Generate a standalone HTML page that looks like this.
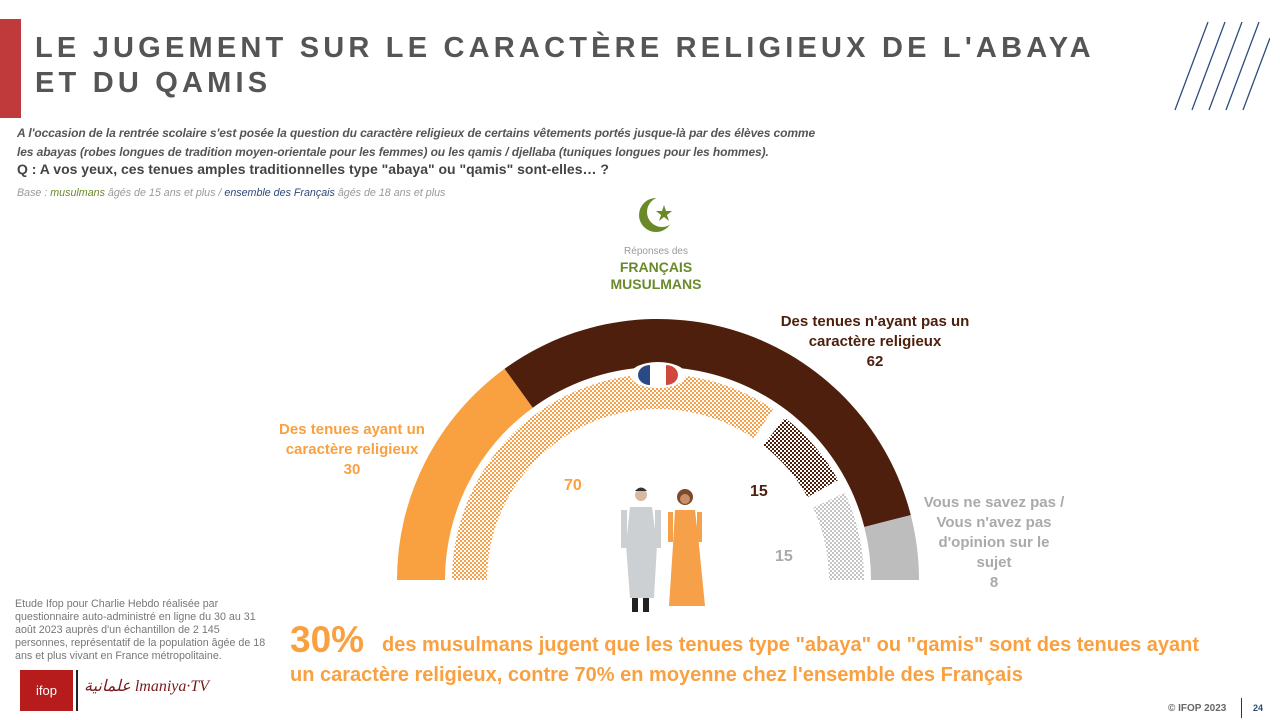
<!DOCTYPE html>
<html><head><meta charset="utf-8"><style>
body{margin:0;width:1280px;height:720px;background:#fff;font-family:"Liberation Sans",sans-serif;position:relative;overflow:hidden}
.a{position:absolute;white-space:nowrap}
</style></head><body>
<div class="a" style="left:0;top:19px;width:21px;height:99px;background:#c0393b"></div>
<div class="a" style="left:35px;top:31px;font-size:29px;font-weight:bold;letter-spacing:4.2px;color:#555;line-height:35px">LE JUGEMENT SUR LE CARACTÈRE RELIGIEUX DE L'ABAYA<br>ET DU QAMIS</div>
<svg class="a" style="left:1170px;top:20px" width="100" height="92"><g stroke="#2b4a7a" stroke-width="1.3"><line x1="5" y1="90" x2="38" y2="2"/><line x1="22" y1="90" x2="55" y2="2"/><line x1="39" y1="90" x2="72" y2="2"/><line x1="56" y1="90" x2="89" y2="2"/><line x1="73" y1="90" x2="100" y2="18"/></g></svg>
<div class="a" style="left:17px;top:124px;font-size:12px;font-style:italic;font-weight:bold;color:#555;line-height:19px;letter-spacing:-0.1px">A l'occasion de la rentrée scolaire s'est posée la question du caractère religieux de certains vêtements portés jusque-là par des élèves comme<br>les abayas (robes longues de tradition moyen-orientale pour les femmes) ou les qamis / djellaba (tuniques longues pour les hommes).</div>
<div class="a" style="left:17px;top:161px;font-size:14px;font-weight:bold;color:#444">Q : A vos yeux, ces tenues amples traditionnelles type "abaya" ou "qamis" sont-elles… ?</div>
<div class="a" style="left:17px;top:187px;font-size:10.7px;font-style:italic;color:#999">Base : <span style="color:#6a8a2a">musulmans</span> âgés de 15 ans et plus / <span style="color:#2b4a7a">ensemble des Français</span> âgés de 18 ans et plus</div>
<svg class="a" style="left:636px;top:195px" width="44" height="40"><circle cx="20" cy="20" r="17" fill="#6a8a2a"/><circle cx="26" cy="17" r="15" fill="#fff"/><polygon points="28,10 30,16 36,16 31,20 33,26 28,22 23,26 25,20 20,16 26,16" fill="#6a8a2a"/></svg>
<div class="a" style="left:606px;top:246px;width:100px;text-align:center;font-size:10px;color:#999">Réponses des</div>
<div class="a" style="left:586px;top:259px;width:140px;text-align:center;font-size:14px;font-weight:bold;color:#6a8a2a;line-height:17px">FRANÇAIS<br>MUSULMANS</div>
<svg class="a" style="left:0;top:0" width="1280" height="720">
<defs>
<pattern id="po" width="4" height="4" patternUnits="userSpaceOnUse"><rect width="4" height="4" fill="#fff"/><rect width="2" height="2" fill="#f6a04a"/><rect x="2" y="2" width="2" height="2" fill="#f6a04a"/></pattern>
<pattern id="pb" width="4" height="4" patternUnits="userSpaceOnUse"><rect width="4" height="4" fill="#fff"/><rect width="2" height="2" fill="#4e1f0c"/><rect x="2" y="2" width="2" height="2" fill="#4e1f0c"/></pattern>
<pattern id="pg" width="4" height="4" patternUnits="userSpaceOnUse"><rect width="4" height="4" fill="#fff"/><rect width="2" height="2" fill="#c4c4c4"/><rect x="2" y="2" width="2" height="2" fill="#c4c4c4"/></pattern>
</defs>
<path d="M397,580 A261,261 0 0 1 504.6,368.8 L532.8,407.7 A213,213 0 0 0 445,580 Z" fill="#f9a040"/>
<path d="M504.6,368.8 A261,261 0 0 1 910.8,515.1 L864.3,527 A213,213 0 0 0 532.8,407.7 Z" fill="#4e1f0c"/>
<path d="M910.8,515.1 A261,261 0 0 1 919,580 L871,580 A213,213 0 0 0 864.3,527 Z" fill="#bdbdbd"/>
<path d="M452,580 A206,206 0 0 1 773.2,409.2 L753.6,438.2 A171,171 0 0 0 487,580 Z" fill="url(#po)"/>
<path d="M784.8,417.7 A206,206 0 0 1 838.2,480.1 L807.6,497.1 A171,171 0 0 0 763.3,445.3 Z" fill="url(#pb)"/>
<path d="M844.7,492.9 A206,206 0 0 1 864,580 L829,580 A171,171 0 0 0 813,507.7 Z" fill="url(#pg)"/>
<ellipse cx="658" cy="375" rx="28" ry="13" fill="#fff"/>
<path d="M650,365 A12,10 0 0 0 650,385 Z" fill="#2b4a85"/><path d="M666,365 A12,10 0 0 1 666,385 Z" fill="#d0473d"/>
<circle cx="641" cy="495" r="6" fill="#d9b8a0"/><path d="M635,491 Q641,484 647,491 Z" fill="#333"/>
<path d="M630,507 L652,507 L657,545 L654,598 L630,598 L626,545 Z" fill="#ccd0d2"/>
<rect x="621" y="510" width="6" height="38" fill="#ccd0d2"/><rect x="655" y="510" width="6" height="38" fill="#ccd0d2"/>
<rect x="632" y="598" width="6" height="14" fill="#222"/><rect x="643" y="598" width="6" height="14" fill="#222"/>
<circle cx="685" cy="497" r="8" fill="#7a4a2a"/><circle cx="685" cy="499" r="5" fill="#c98e6a"/>
<path d="M675,510 L695,510 L699,545 L705,606 L669,606 L673,545 Z" fill="#f6a04a"/>
<rect x="668" y="512" width="5" height="30" fill="#f6a04a"/><rect x="697" y="512" width="5" height="30" fill="#f6a04a"/>
</svg>
<div class="a" style="left:262px;top:420px;width:180px;text-align:center;font-size:15px;font-weight:bold;color:#f9a040;line-height:20px">Des tenues ayant un<br>caractère religieux<br>30</div>
<div class="a" style="left:755px;top:312px;width:240px;text-align:center;font-size:15px;font-weight:bold;color:#4e1f0c;line-height:20px">Des tenues n'ayant pas un<br>caractère religieux<br>62</div>
<div class="a" style="left:900px;top:493px;width:188px;text-align:center;font-size:15px;font-weight:bold;color:#aaa;line-height:20px">Vous ne savez pas /<br>Vous n'avez pas<br>d'opinion sur le<br>sujet<br>8</div>
<div class="a" style="left:564px;top:477px;font-size:16px;font-weight:bold;color:#f9a040">70</div>
<div class="a" style="left:750px;top:483px;font-size:16px;font-weight:bold;color:#4e1f0c">15</div>
<div class="a" style="left:775px;top:548px;font-size:16px;font-weight:bold;color:#aaa">15</div>
<div class="a" style="left:15px;top:598px;font-size:10.7px;color:#777;line-height:13px"> Etude Ifop pour Charlie Hebdo réalisée par<br>questionnaire auto-administré en ligne du 30 au 31<br>août 2023 auprès d'un échantillon de 2 145<br>personnes, représentatif de la population âgée de 18<br>ans et plus vivant en France métropolitaine.</div>
<div class="a" style="left:20px;top:670px;width:53px;height:41px;background:#b71c1c;color:#fff;font-size:13px;text-align:center;line-height:41px">ifop</div>
<div class="a" style="left:76px;top:670px;width:2px;height:41px;background:#222"></div>
<div class="a" style="left:84px;top:676px;font-size:16px;font-style:italic;font-family:'Liberation Serif',serif;color:#7a1a1a">علمانية lmaniya·TV</div>
<div class="a" style="left:290px;top:619px;font-size:37px;font-weight:bold;color:#f9a040">30%</div>
<div class="a" style="left:382px;top:634px;font-size:20px;font-weight:bold;color:#f9a040">des musulmans jugent que les tenues type "abaya" ou "qamis" sont des tenues ayant</div>
<div class="a" style="left:290px;top:664px;font-size:20px;font-weight:bold;color:#f9a040">un caractère religieux, contre 70% en moyenne chez l'ensemble des Français</div>
<div class="a" style="left:1168px;top:703px;font-size:10px;font-weight:bold;color:#666">© IFOP 2023</div>
<div class="a" style="left:1241px;top:698px;width:1px;height:20px;background:#333"></div>
<div class="a" style="left:1253px;top:703px;font-size:9px;font-weight:bold;color:#2b4a7a">24</div>
</body></html>
